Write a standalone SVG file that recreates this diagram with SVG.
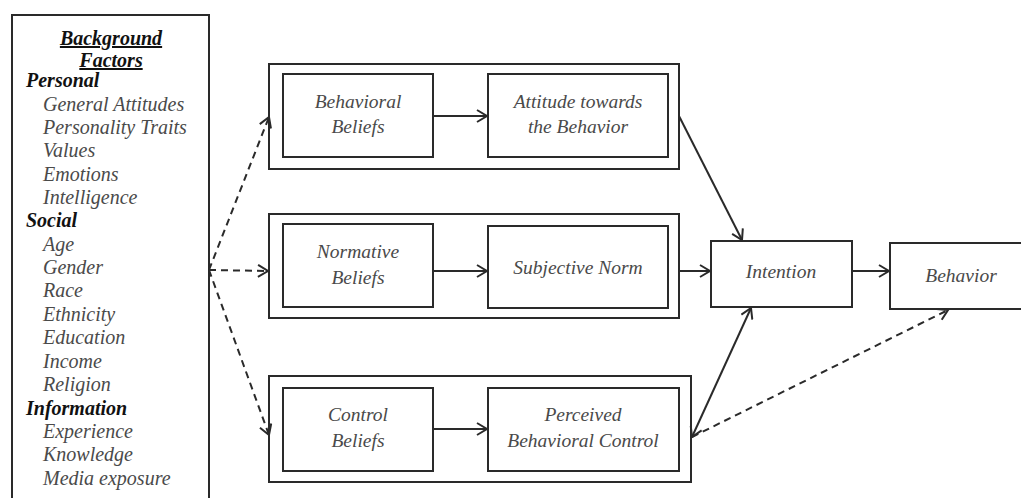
<svg xmlns="http://www.w3.org/2000/svg" width="1021" height="498" viewBox="0 0 1021 498">
<style>
.box{fill:#fff;stroke:#2a2a2a;stroke-width:2}
.t{font-family:'Liberation Serif','Times New Roman','DejaVu Serif',serif;font-style:italic;font-size:19.5px;fill:#4a4a4a;text-anchor:middle}
.h{font-family:'Liberation Serif','Times New Roman','DejaVu Serif',serif;font-style:italic;font-weight:bold;font-size:20px;fill:#111}
.i{font-family:'Liberation Serif','Times New Roman','DejaVu Serif',serif;font-style:italic;font-size:20px;fill:#4a4a4a}
.c{fill:none;stroke:#2a2a2a;stroke-width:2}
.d{stroke-dasharray:7 5}
</style>
<defs>
<marker id="ah" markerUnits="userSpaceOnUse" markerWidth="14" markerHeight="14" refX="11" refY="7" orient="auto-start-reverse" viewBox="0 0 14 14">
<path d="M1,1 L11,7 L1,13" fill="none" stroke="#2a2a2a" stroke-width="2"/>
</marker>
</defs>
<rect width="1021" height="498" fill="#fff"/>
<g id="background">
<rect class="box" x="12" y="15" width="197" height="500"/>
<text class="h" x="111" y="45" text-anchor="middle" font-size="20.5" text-decoration="underline">Background</text>
<text class="h" x="111" y="67" text-anchor="middle" font-size="20.5" text-decoration="underline">Factors</text>
<text class="h" x="26" y="87">Personal</text>
<text class="i" x="43" y="111">General Attitudes</text>
<text class="i" x="43" y="134">Personality Traits</text>
<text class="i" x="43" y="157">Values</text>
<text class="i" x="43" y="181">Emotions</text>
<text class="i" x="43" y="204">Intelligence</text>
<text class="h" x="26" y="227">Social</text>
<text class="i" x="43" y="251">Age</text>
<text class="i" x="43" y="274">Gender</text>
<text class="i" x="43" y="297">Race</text>
<text class="i" x="43" y="321">Ethnicity</text>
<text class="i" x="43" y="344">Education</text>
<text class="i" x="43" y="368">Income</text>
<text class="i" x="43" y="391">Religion</text>
<text class="h" x="26" y="415">Information</text>
<text class="i" x="43" y="438">Experience</text>
<text class="i" x="43" y="461">Knowledge</text>
<text class="i" x="43" y="485">Media exposure</text>
</g>
<g id="group-attitude">
<rect class="box" x="269" y="64" width="410" height="105"/>
</g>
<g id="behavioral-beliefs">
<rect class="box" x="283" y="74" width="150" height="83"/>
<text class="t" x="358" y="108">Behavioral</text>
<text class="t" x="358" y="133">Beliefs</text>
</g>
<g id="attitude">
<rect class="box" x="488" y="74" width="180" height="83"/>
<text class="t" x="578" y="108">Attitude towards</text>
<text class="t" x="578" y="133">the Behavior</text>
</g>
<g id="group-norm">
<rect class="box" x="269" y="214" width="410" height="104"/>
</g>
<g id="normative-beliefs">
<rect class="box" x="283" y="224" width="150" height="83"/>
<text class="t" x="358" y="258">Normative</text>
<text class="t" x="358" y="284">Beliefs</text>
</g>
<g id="subjective-norm">
<rect class="box" x="488" y="226" width="180" height="82"/>
<text class="t" x="578" y="274">Subjective Norm</text>
</g>
<g id="group-control">
<rect class="box" x="269" y="376" width="422" height="106"/>
</g>
<g id="control-beliefs">
<rect class="box" x="283" y="388" width="150" height="83"/>
<text class="t" x="358" y="421">Control</text>
<text class="t" x="358" y="447">Beliefs</text>
</g>
<g id="pbc">
<rect class="box" x="488" y="388" width="191" height="83"/>
<text class="t" x="583" y="421">Perceived</text>
<text class="t" x="583" y="447">Behavioral Control</text>
</g>
<g id="intention">
<rect class="box" x="711" y="241" width="141" height="66"/>
<text class="t" x="781" y="278">Intention</text>
</g>
<g id="behavior">
<rect class="box" x="890" y="243" width="140" height="66"/>
<text class="t" x="961" y="282">Behavior</text>
</g>
<g id="connectors">
<line class="c" x1="433" y1="116" x2="487" y2="116" marker-end="url(#ah)"/>
<line class="c" x1="433" y1="271" x2="487" y2="271" marker-end="url(#ah)"/>
<line class="c" x1="433" y1="429" x2="487" y2="429" marker-end="url(#ah)"/>
<line class="c" x1="679" y1="116" x2="742" y2="240" marker-end="url(#ah)"/>
<line class="c" x1="679" y1="271" x2="710" y2="271" marker-end="url(#ah)"/>
<line class="c" x1="852" y1="271" x2="889" y2="271" marker-end="url(#ah)"/>
<line class="c" x1="692" y1="437" x2="751" y2="308" marker-start="url(#ah)" marker-end="url(#ah)"/>
<line class="c d" x1="692" y1="437" x2="948" y2="310" marker-end="url(#ah)"/>
<line class="c d" x1="209" y1="270" x2="269" y2="117" marker-end="url(#ah)"/>
<line class="c d" x1="209" y1="270" x2="268" y2="271" marker-end="url(#ah)"/>
<line class="c d" x1="209" y1="270" x2="269" y2="435" marker-end="url(#ah)"/>
</g>
</svg>
